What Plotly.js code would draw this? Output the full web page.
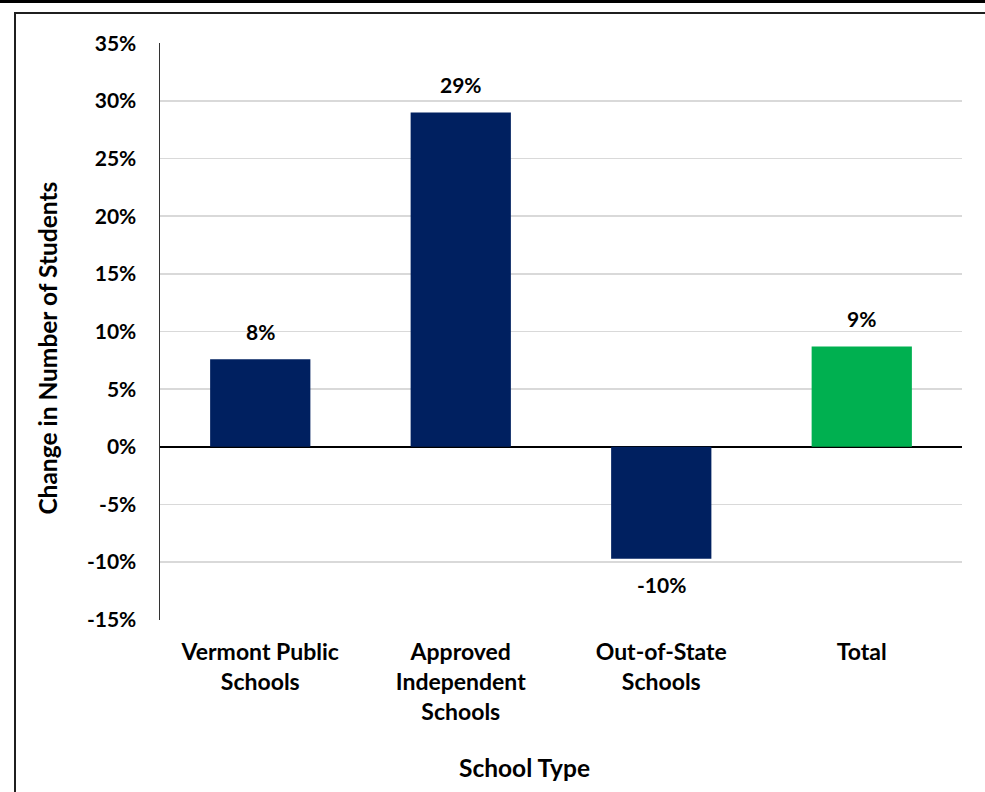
<!DOCTYPE html>
<html>
<head>
<meta charset="utf-8">
<script src="https://cdn.plot.ly/plotly-3.0.1.min.js"></script>
<style>
  html, body { margin: 0; padding: 0; background: #fff; overflow: hidden; }
  #page { position: relative; width: 985px; height: 792px; overflow: hidden; }
  #topRule { position: absolute; left: 0; top: 0; width: 985px; height: 3px; background: #000; }
  #frame { position: absolute; left: 14px; top: 12px; width: 1000px; height: 820px;
           border-left: 2px solid #1f1f1f; border-top: 2px solid #1f1f1f; }
  #chart { position: absolute; left: 0; top: 0; width: 985px; height: 792px; }
</style>
</head>
<body>
<div id="page">
  <div id="topRule"></div>
  <div id="frame"></div>
  <div id="chart"></div>
</div>
<script>
// School types and change in number of students (fraction)
const schoolTypes = ["Vermont Public<br>Schools", "Approved<br>Independent<br>Schools", "Out-of-State<br>Schools", "Total"];
const changeValues = [0.076, 0.29, -0.097, 0.087];
const barColors = ["#002060", "#002060", "#002060", "#00B050"];
const yTickVals = [-0.15, -0.10, -0.05, 0, 0.05, 0.10, 0.15, 0.20, 0.25, 0.30, 0.35];
const xTitle = "School Type";
const yTitle = "Change in Number of Students";

const fontFamily = "Lato, 'Open Sans', sans-serif";
const ink = "#000";
const titleFont = { family: fontFamily, size: 24.5, color: ink, weight: 700 };

// Whole-percent text with a plain hyphen for negatives
const pct = v => Math.round(v * 100) + "%";
const yTickText = yTickVals.map(pct);

// Value labels sit just past the end of each bar
const valueLabels = schoolTypes.map((cat, i) => {
  const v = changeValues[i];
  return {
    x: cat, y: v, xref: "x", yref: "y",
    text: pct(v),
    showarrow: false,
    yanchor: v >= 0 ? "bottom" : "top",
    yshift: v >= 0 ? 13 : -11,
    font: { family: fontFamily, size: 21, color: ink, weight: 700 }
  };
});

// Axis titles placed as paper annotations so they can sit off-centre
const axisTitles = [
  { text: xTitle, xref: "paper", yref: "paper", x: 0.454, y: -0.2548,
    xanchor: "center", yanchor: "middle", showarrow: false, font: titleFont },
  { text: yTitle, xref: "paper", yref: "paper", x: -0.1397, y: 0.472,
    xanchor: "center", yanchor: "middle", textangle: -90, showarrow: false, font: titleFont }
];

const trace = {
  type: "bar",
  x: schoolTypes,
  y: changeValues,
  marker: { color: barColors, line: { width: 0 } },
  hoverinfo: "skip"
};

const layout = {
  width: 985, height: 792,
  margin: { l: 160, r: 23, t: 43, b: 172 },
  paper_bgcolor: "rgba(0,0,0,0)",
  plot_bgcolor: "rgba(0,0,0,0)",
  showlegend: false,
  bargap: 0.5,
  font: { family: fontFamily, color: ink, weight: 700 },
  xaxis: {
    type: "category",
    showgrid: false,
    showline: false,
    ticks: "",
    ticklabelstandoff: 16,
    tickfont: { family: fontFamily, size: 23, color: ink, weight: 700 },
    automargin: false
  },
  yaxis: {
    range: [-0.1502, 0.3502],
    tickvals: yTickVals,
    ticktext: yTickText,
    showgrid: true,
    gridcolor: "#d9d9d9",
    gridwidth: 1.5,
    zeroline: true,
    zerolinecolor: "#000",
    zerolinewidth: 2,
    showline: true,
    linecolor: "#333",
    linewidth: 1.5,
    ticks: "",
    ticklabelstandoff: 18,
    tickfont: { family: fontFamily, size: 21, color: ink, weight: 700 },
    automargin: false
  },
  annotations: valueLabels.concat(axisTitles)
};

Plotly.newPlot("chart", [trace], layout, { staticPlot: true, displayModeBar: false });
</script>
</body>
</html>
